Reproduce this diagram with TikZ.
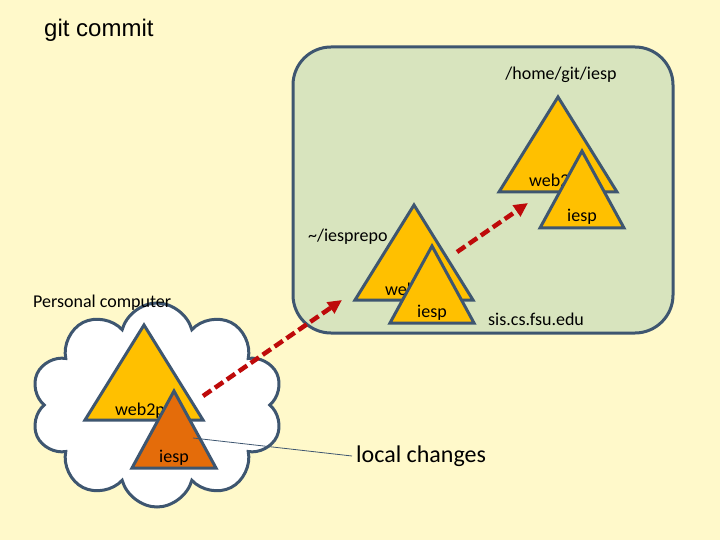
\documentclass[tikz,border=0pt]{standalone}
\usepackage{fontspec}
\setmainfont{Carlito}
\newfontfamily\arialfont{Liberation Sans}
\usetikzlibrary{arrows.meta,positioning,shapes.symbols}
\definecolor{cBack}{RGB}{255,249,202}
\definecolor{cServer}{RGB}{216,228,190}
\definecolor{cEdge}{RGB}{62,86,112}
\definecolor{cGold}{RGB}{255,192,0}
\definecolor{cOrange}{RGB}{228,108,10}
\definecolor{cRed}{RGB}{190,10,10}
\tikzset{
  tri/.style={draw=cEdge, line width=3bp, line join=miter},
  lbl/.style={font=\fontsize{18bp}{21bp}\selectfont, inner sep=0pt},
  big/.style={font=\fontsize{24bp}{28bp}\selectfont, inner sep=0pt},
  push/.style={-{Triangle[length=14bp, width=13bp]}, draw=cRed, line width=4.5bp,
               dash pattern=on 10bp off 4.5bp},
  pointer/.style={draw=cEdge, line width=0.8bp},
}

\begin{document}
\begin{tikzpicture}[x=1bp, y=-1bp]
% page
\fill[cBack] (0,0) rectangle (720,540);
\useasboundingbox (0,0) rectangle (720,540);
\node[big, font=\arialfont\fontsize{24bp}{28bp}\selectfont, anchor=base west] (title) at (44,37) {git commit};

% server and personal computer
\node[draw=cEdge, fill=cServer, line width=3bp, rounded corners=38bp,
      minimum width=380bp, minimum height=286bp] (server) at (483,190) {};
\node[cloud, draw=cEdge, fill=white, line width=3bp, cloud puffs=10, aspect=1.25,
      minimum width=252bp, minimum height=204bp, inner sep=0pt] (laptop) at (157,405) {};

% repositories: {name}{big apex x}{big base}{small apex x}{small base}{colour}
\foreach \n/\bx/\by/\sx/\sy/\col in {srv/558/192/582/228/cGold, loc/414/300/432/323/cGold,
                                    pc/144/420/174/468/cOrange} {
  \draw[tri, fill=cGold] (\bx-59,\by) -- (\bx,\by-95) -- (\bx+59,\by) -- cycle;
  \node[lbl, anchor=base] (web-\n) at (\bx,\by-5) {web2py};
  \draw[tri, fill=\col] (\sx-42,\sy) -- (\sx,\sy-77) -- (\sx+42,\sy) -- cycle;
  \node[lbl, anchor=base] (iesp-\n) at (\sx,\sy-6) {iesp};
}

% labels
\node[lbl, anchor=base] (path-srv) at (561,80) {/home/git/iesp};
\node[lbl, anchor=base west] (path-loc) at (308,242) {\textasciitilde/iesprepo};
\node[lbl, anchor=base west] (host) at (488,325) {sis.cs.fsu.edu};
\node[lbl, anchor=base west] (pc-name) at (33,307) {Personal computer};
\node[big, anchor=west, inner sep=4bp] (chg) at (352,456) {local changes};

% pushes
\coordinate (pc-out) at (203,396);
\coordinate (loc-in) at (342,300);
\coordinate (loc-out) at (457,252);
\coordinate (srv-in) at (528,203);
\draw[push] (pc-out) -- (loc-in);
\draw[push] (loc-out) -- (srv-in);

% callout
\coordinate (edit) at (193,438);
\draw[pointer] (edit) -- (chg.west);
\end{tikzpicture}
\end{document}
